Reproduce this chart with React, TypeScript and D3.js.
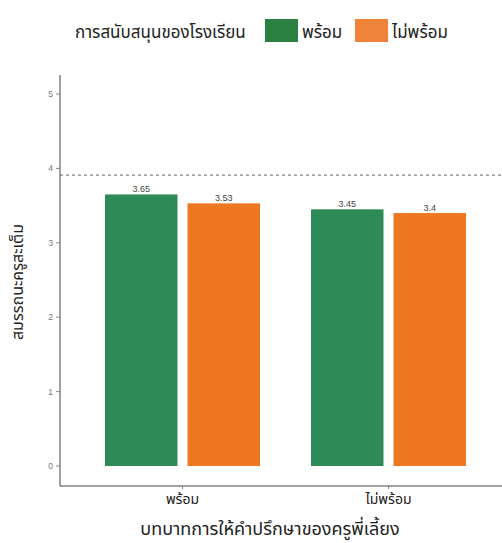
import React from "react";
import * as d3 from "d3";

const categories = ["พร้อม", "ไม่พร้อม"];
const seriesNames = ["พร้อม", "ไม่พร้อม"];
const readyValues = [3.65, 3.45];
const notReadyValues = [3.53, 3.4];
const yTicks = [0, 1, 2, 3, 4, 5];
const refLine = 3.91;
const seriesColors = ["#2E8B57", "#EE7722"];
const legendColors = ["#2A8040", "#F0833A"];

const W = 502;
const H = 543;
const font = "'Noto Sans Thai', Tahoma, 'Noto Sans', 'DejaVu Sans', sans-serif";

export default function App() {
  const plotLeft = 60;
  const plotRight = 502;
  const plotTop = 75;
  const plotBottom = 486;
  const groupWidth = 155;

  const y = d3.scaleLinear().domain([0, 5]).range([466, 94]);
  const x0 = d3.scaleBand().domain(categories).range([79.5, 491.5]).paddingInner(0).paddingOuter(0);
  const x1 = d3.scaleBand().domain(seriesNames).range([0, groupWidth]).paddingInner(0.121);
  const groupOffset = (x0.bandwidth() - groupWidth) / 2;

  const data = categories.map((c, i) => ({
    cat: c,
    vals: [readyValues[i], notReadyValues[i]],
  }));

  return (
    <svg width={W} height={H} style={{ position: "absolute", left: 0, top: 0, background: "#fff" }} fontFamily={font}>
      {/* legend */}
      <text x={75} y={38} fontSize={17} fill="#222">การสนับสนุนของโรงเรียน</text>
      <rect x={265} y={19} width={33} height={23} fill={legendColors[0]} />
      <text x={302} y={38} fontSize={17} fill="#222">{seriesNames[0]}</text>
      <rect x={355} y={19} width={33} height={23} fill={legendColors[1]} />
      <text x={392} y={38} fontSize={17} fill="#222">{seriesNames[1]}</text>

      {/* axes */}
      <line x1={plotLeft} x2={plotLeft} y1={plotTop} y2={plotBottom} stroke="#444" strokeWidth={1} />
      <line x1={plotLeft} x2={plotRight} y1={plotBottom} y2={plotBottom} stroke="#444" strokeWidth={1} />
      {yTicks.map((t) => (
        <g key={t}>
          <line x1={plotLeft - 4} x2={plotLeft} y1={y(t)} y2={y(t)} stroke="#888" />
          <text x={plotLeft - 7} y={y(t)} dy="0.35em" textAnchor="end" fontSize={8.5} fill="#777" fontFamily="'Liberation Sans', Arial, sans-serif">{t}</text>
        </g>
      ))}

      {/* reference line */}
      <line x1={plotLeft} x2={plotRight} y1={y(refLine)} y2={y(refLine)} stroke="#666" strokeDasharray="3,3" strokeWidth={1} />

      {/* bars */}
      {data.map((d) => (
        <g key={d.cat} transform={`translate(${(x0(d.cat) ?? 0) + groupOffset},0)`}>
          {d.vals.map((v, j) => (
            <g key={j}>
              <rect x={x1(seriesNames[j])} y={y(v)} width={x1.bandwidth()} height={y(0) - y(v)} fill={seriesColors[j]} />
              <text x={(x1(seriesNames[j]) ?? 0) + x1.bandwidth() / 2} y={y(v) - 2} textAnchor="middle" fontSize={9} fill="#444" fontFamily="'Liberation Sans', Arial, sans-serif">{v}</text>
            </g>
          ))}
        </g>
      ))}

      {/* x tick labels */}
      {categories.map((c) => (
        <g key={c}>
          <line x1={(x0(c) ?? 0) + x0.bandwidth() / 2} x2={(x0(c) ?? 0) + x0.bandwidth() / 2} y1={plotBottom} y2={plotBottom + 3} stroke="#888" />
          <text x={(x0(c) ?? 0) + x0.bandwidth() / 2} y={504} textAnchor="middle" fontSize={14} fill="#222">{c}</text>
        </g>
      ))}

      {/* axis titles */}
      <text x={270} y={535} textAnchor="middle" fontSize={18} fill="#222">บทบาทการให้คำปรึกษาของครูพี่เลี้ยง</text>
      <text transform={`translate(23,282) rotate(-90)`} textAnchor="middle" fontSize={16} fill="#222">สมรรถนะครูสะเต็ม</text>
    </svg>
  );
}
